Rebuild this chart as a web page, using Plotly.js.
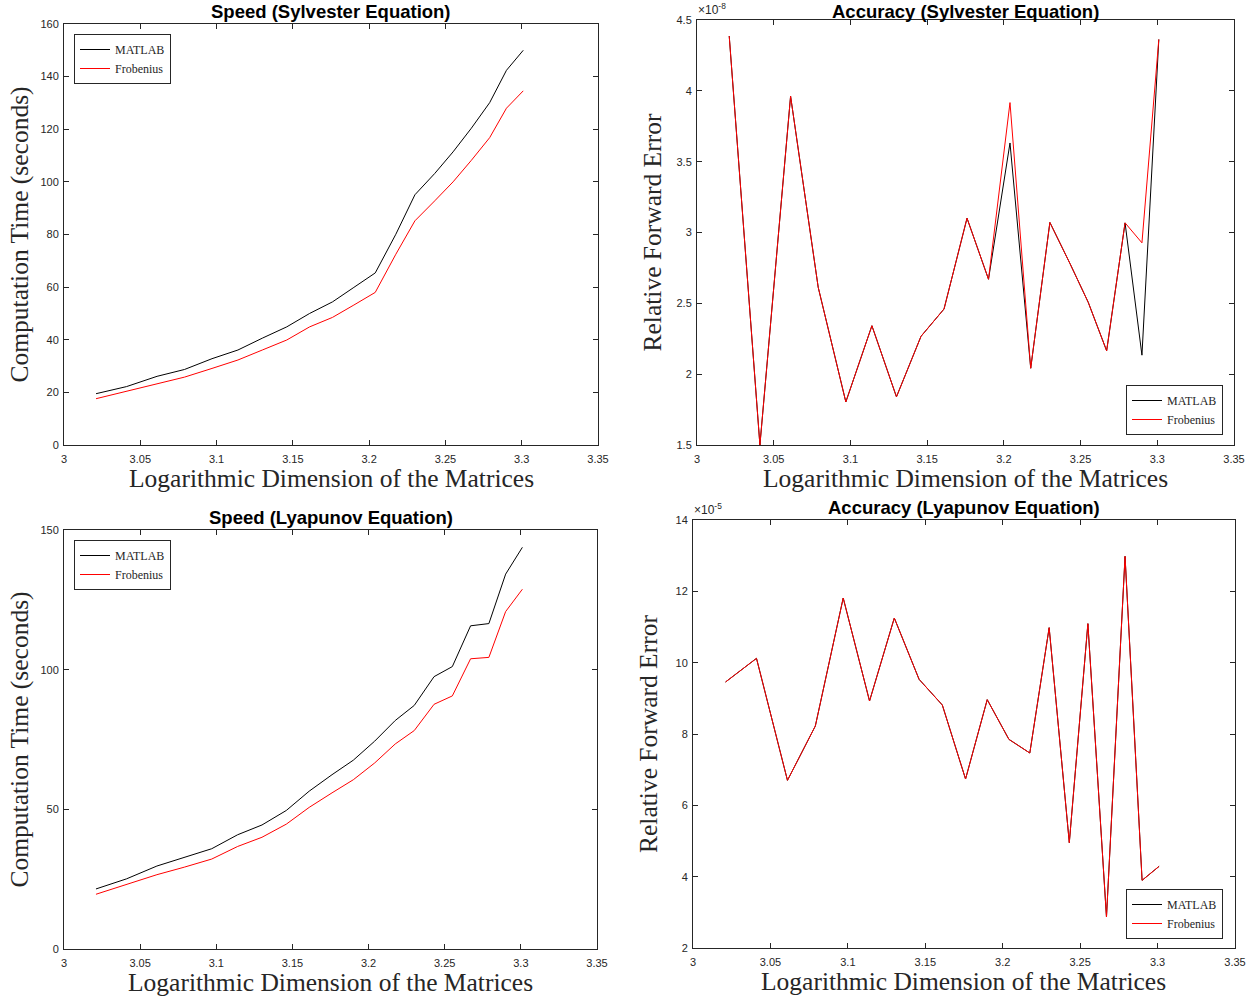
<!DOCTYPE html>
<html>
<head>
<meta charset="utf-8">
<script src="https://cdn.plot.ly/plotly-3.0.1.min.js"></script>
<style>html,body{margin:0;padding:0;background:#fff;}#chart{width:1258px;height:999px;}</style>
</head>
<body>
<div id="chart"></div>
<script>
// Logarithmic dimension of the matrices (x values)
var logDim = [3.021, 3.041, 3.061, 3.079, 3.097, 3.114, 3.130, 3.146, 3.161, 3.176,
              3.190, 3.204, 3.2175, 3.230, 3.243, 3.255, 3.267, 3.279, 3.290, 3.301];

// Speed (Sylvester) – seconds
var sylSpeedMatlab = [19.5, 22.2, 26.1, 28.7, 32.8, 36.1, 40.6, 44.9, 50.0, 54.4,
                      59.9, 65.4, 80.1, 95.1, 103.2, 111.4, 120.4, 130.1, 142.4, 150.0];
var sylSpeedFrob   = [17.6, 20.4, 23.2, 25.8, 29.1, 32.3, 36.1, 39.9, 44.9, 48.5,
                      53.2, 58.0, 72.5, 85.2, 92.8, 100.0, 108.2, 116.8, 128.0, 134.6];

// Accuracy (Sylvester) – relative forward error, in units of 1e-8
var sylAccMatlab = [4.387, 1.50, 3.962, 2.613, 1.804, 2.342, 1.840, 2.267, 2.460, 3.101,
                    2.670, 3.632, 2.042, 3.071, 2.783, 2.507, 2.165, 3.068, 2.134, 4.363];
var sylAccFrob   = [4.387, 1.50, 3.962, 2.613, 1.804, 2.342, 1.840, 2.267, 2.460, 3.101,
                    2.670, 3.917, 2.042, 3.071, 2.783, 2.507, 2.165, 3.068, 2.927, 4.363];

// Speed (Lyapunov) – seconds
var lyaSpeedMatlab = [21.5, 25.1, 29.7, 32.8, 35.9, 40.9, 44.4, 49.6, 56.5, 62.4,
                      67.6, 74.4, 81.8, 87.2, 97.5, 101.1, 115.7, 116.5, 134.2, 143.8];
var lyaSpeedFrob   = [19.6, 23.0, 26.6, 29.3, 32.2, 36.7, 40.0, 44.7, 50.7, 55.9,
                      60.6, 66.6, 73.4, 78.2, 87.6, 90.6, 103.9, 104.4, 120.8, 128.8];

// Accuracy (Lyapunov) – relative forward error, in units of 1e-5
var lyaAccMatlab = [9.458, 10.121, 6.701, 8.224, 11.813, 8.925, 11.252, 9.533, 8.813, 6.738,
                    8.963, 7.850, 7.467, 10.981, 4.953, 11.093, 2.869, 12.981, 3.897, 4.290];
var lyaAccFrob   = [9.458, 10.121, 6.701, 8.224, 11.813, 8.925, 11.252, 9.533, 8.813, 6.738,
                    8.963, 7.850, 7.467, 10.981, 4.953, 11.093, 2.869, 12.981, 3.897, 4.290];

var seriesNames = ['MATLAB', 'Frobenius'];
var seriesColors = ['#000000', '#ff0000'];
var titles = ['Speed (Sylvester Equation)', 'Accuracy (Sylvester Equation)',
              'Speed (Lyapunov Equation)', 'Accuracy (Lyapunov Equation)'];
var xTitle = 'Logarithmic Dimension of the Matrices';
var yTitles = ['Computation Time (seconds)', 'Relative Forward Error',
               'Computation Time (seconds)', 'Relative Forward Error'];

var W = 1258, H = 999;
function px(x){ return x / W; }
function py(y){ return 1 - y / H; }

var panels = [
  {data:[sylSpeedMatlab, sylSpeedFrob], box:[64,598,24,445], yr:[0,160], dy:20, leg:[74,34,'left','top']},
  {data:[sylAccMatlab, sylAccFrob], box:[697,1234,20,445], yr:[1.5,4.5], dy:0.5, leg:[1223,435,'right','bottom'], exp:'-8', titleTop:true},
  {data:[lyaSpeedMatlab, lyaSpeedFrob], box:[64,597,530,949], yr:[0,150], dy:50, leg:[74,540,'left','top']},
  {data:[lyaAccMatlab, lyaAccFrob], box:[693,1235,520,948], yr:[2,14], dy:2, leg:[1223,939,'right','bottom'], exp:'-5'}
];

var traces = [];
var layout = {
  width: W, height: H,
  margin: {l:0, r:0, t:0, b:0},
  paper_bgcolor: '#ffffff', plot_bgcolor: '#ffffff',
  showlegend: true,
  annotations: []
};

var tickFont = {family: 'Liberation Sans, Arial, sans-serif', size: 11, color: '#262626'};
var serif = 'Liberation Serif, Times New Roman, serif';

panels.forEach(function(p, i){
  var n = i + 1;
  var xa = 'xaxis' + (n === 1 ? '' : n), ya = 'yaxis' + (n === 1 ? '' : n);
  var xr = 'x' + (n === 1 ? '' : n), yr = 'y' + (n === 1 ? '' : n);
  var legKey = 'legend' + (n === 1 ? '' : n);
  p.data.forEach(function(vals, k){
    traces.push({
      type: 'scatter', mode: 'lines', x: logDim, y: vals, name: seriesNames[k],
      xaxis: xr, yaxis: yr, legend: legKey,
      line: {color: seriesColors[k], width: 1}
    });
  });
  var b = p.box;
  var common = {
    showline: true, mirror: 'ticks', linecolor: '#262626', linewidth: 1,
    ticks: 'inside', ticklen: 5, tickcolor: '#262626', tickwidth: 1,
    showgrid: false, zeroline: false, tickfont: tickFont, fixedrange: true
  };
  layout[xa] = Object.assign({}, common, {
    domain: [px(b[0]), px(b[1])], range: [3, 3.35], tick0: 3, dtick: 0.05,
    anchor: yr, ticklabelstandoff: 4
  });
  layout[ya] = Object.assign({}, common, {
    domain: [py(b[3]), py(b[2])], range: p.yr, tick0: p.yr[0], dtick: p.dy,
    anchor: xr, ticklabelstandoff: 2
  });
  layout[legKey] = {
    x: px(p.leg[0]), y: py(p.leg[1]), xanchor: p.leg[2], yanchor: p.leg[3],
    xref: 'paper', yref: 'paper',
    bgcolor: '#ffffff', bordercolor: '#262626', borderwidth: 1,
    font: {family: serif, size: 12, color: '#262626'},
    tracegroupgap: 0, itemwidth: 30
  };
  var cx = px((b[0] + b[1]) / 2);
  var titleAnn = {
    text: '<b>' + titles[i] + '</b>', xref: 'paper', yref: 'paper',
    x: cx, xanchor: 'center', showarrow: false, borderpad: 0,
    font: {family: 'Liberation Sans, Arial, sans-serif', size: 18.5, color: '#000000'}
  };
  if (p.titleTop) { titleAnn.y = 1; titleAnn.yanchor = 'top'; titleAnn.height = 21; titleAnn.valign = 'middle'; }
  else { titleAnn.y = py(b[2] - 1); titleAnn.yanchor = 'bottom'; }
  layout.annotations.push(titleAnn);
  layout.annotations.push({
    text: xTitle, xref: 'paper', yref: 'paper',
    x: cx, y: py(b[3] + 17), xanchor: 'center', yanchor: 'top', showarrow: false,
    font: {family: serif, size: 25.5, color: '#262626'}
  });
  layout.annotations.push({
    text: yTitles[i], xref: 'paper', yref: 'paper', textangle: -90,
    x: px(b[0] - 45), y: py((b[2] + b[3]) / 2), xanchor: 'center', yanchor: 'middle', showarrow: false,
    font: {family: serif, size: 25.5, color: '#262626'}
  });
  if (p.exp) {
    layout.annotations.push({
      text: '×10<sup>' + p.exp + '</sup>', xref: 'paper', yref: 'paper',
      x: px(b[0] - 1), y: py(b[2] - 1), xanchor: 'left', yanchor: 'bottom', showarrow: false,
      font: {family: 'Liberation Sans, Arial, sans-serif', size: 12, color: '#262626'}
    });
  }
});

Plotly.newPlot('chart', traces, layout, {displayModeBar: false, staticPlot: true});
</script>
</body>
</html>
